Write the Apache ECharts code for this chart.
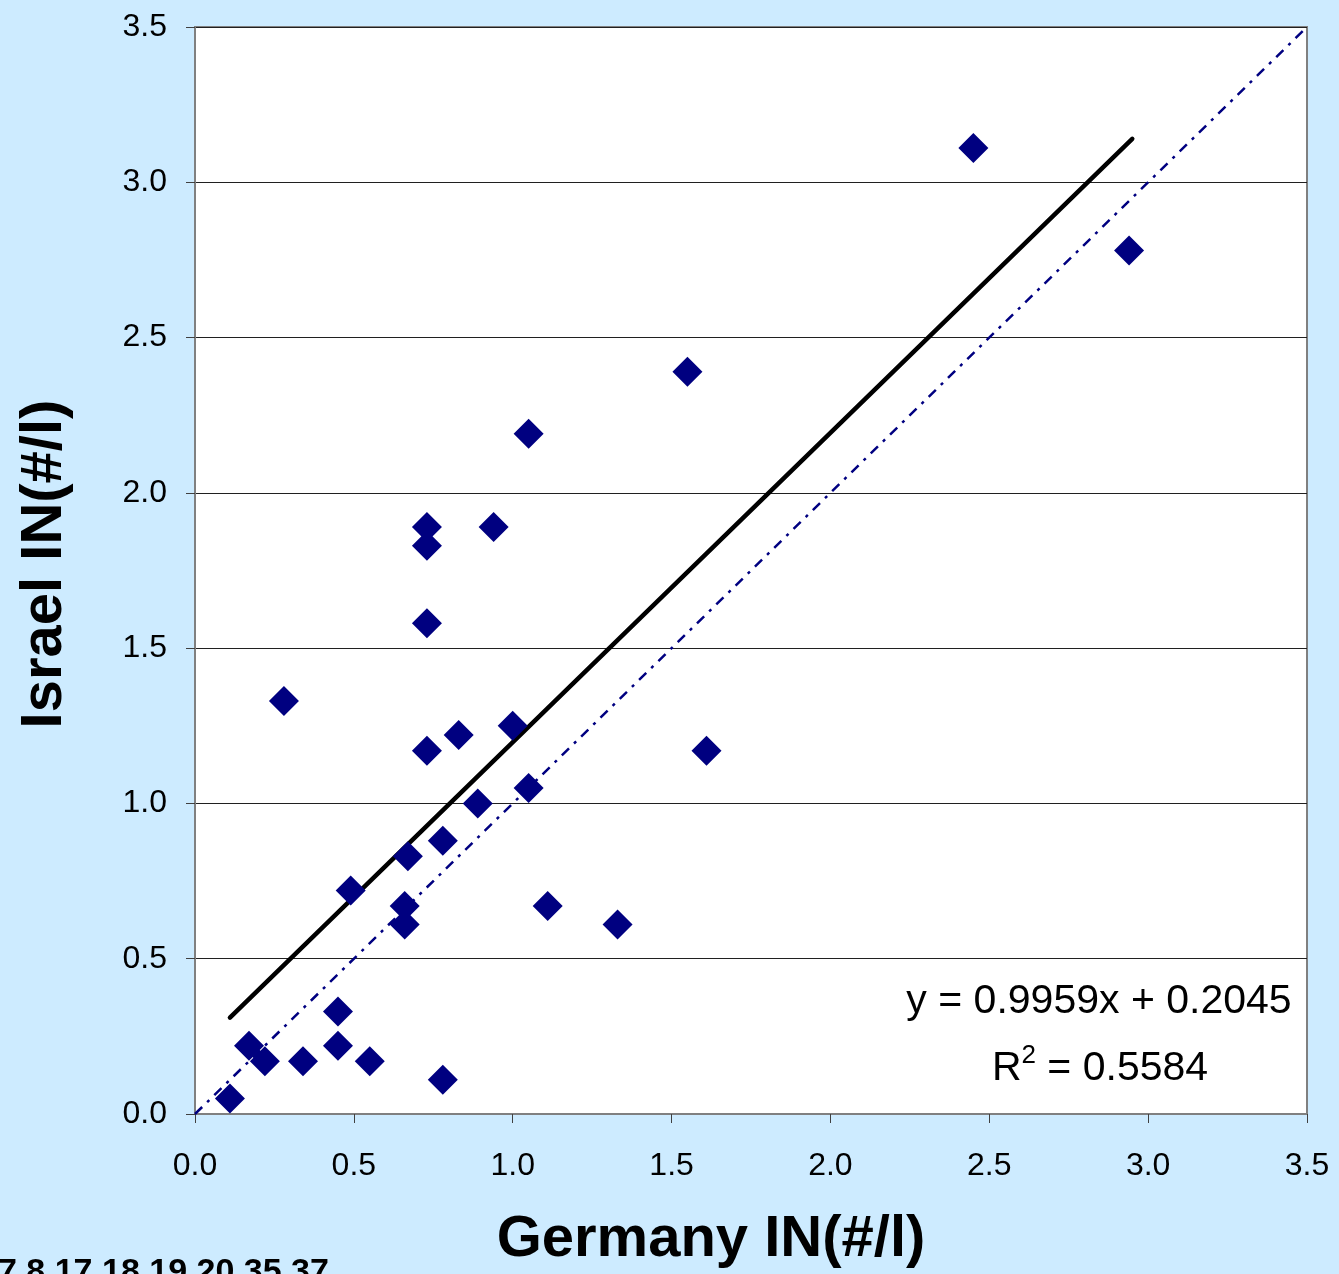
<!DOCTYPE html>
<html>
<head>
<meta charset="utf-8">
<script src="https://cdn.jsdelivr.net/npm/echarts@6/dist/echarts.min.js"></script>
<style>
  html, body { margin: 0; padding: 0; background: #cdebff; }
  #chart { width: 1339px; height: 1274px; }
</style>
</head>
<body>
<div id="chart"></div>
<script>
// Germany IN (x) vs Israel IN (y)
const germany = [0.11, 0.17, 0.22, 0.34, 0.45, 0.45, 0.55, 0.78, 0.49, 0.28,
  0.66, 0.66, 0.67, 0.78, 0.73, 0.83, 0.89, 1.00, 1.05, 1.11,
  1.33, 1.61, 0.73, 0.73, 0.73, 0.94, 1.05, 1.55, 2.45, 2.94]
const israel = [0.05, 0.22, 0.17, 0.17, 0.33, 0.22, 0.17, 0.11, 0.72, 1.33,
  0.67, 0.61, 0.83, 0.88, 1.17, 1.22, 1.00, 1.25, 1.05, 0.67,
  0.61, 1.17, 1.58, 1.83, 1.89, 1.89, 2.19, 2.39, 3.11, 2.78]

// linear trendline end points and the 1:1 line
const trendX = [0.11, 2.95]
const trendY = [0.31, 3.14]
const diagX = [0, 3.5]
const diagY = [0, 3.5]

const ticks = ['0.0', '0.5', '1.0', '1.5', '2.0', '2.5', '3.0', '3.5']
const equation = 'y = 0.9959x + 0.2045'
const rSquared = '0.5584'
const footnote = '7,8,17,18,19,20,35,37'

const font = '"Liberation Sans", Arial, sans-serif'
const chart = echarts.init(document.getElementById('chart'))

const axisCommon = {
  type: 'value',
  min: 0,
  max: 3.5,
  interval: 0.5,
  axisLine: { show: true, lineStyle: { color: '#808080', width: 2 } },
  axisTick: { show: true, inside: false, length: 9, lineStyle: { color: '#404040', width: 1 } },
  axisLabel: {
    color: '#000',
    fontSize: 32,
    fontFamily: font,
    formatter: v => ticks[Math.round(v * 2)]
  }
}

chart.setOption({
  backgroundColor: '#cdebff',
  animation: false,
  grid: {
    left: 195, top: 27, right: 32, bottom: 160,
    show: true, backgroundColor: '#fff', borderColor: '#808080', borderWidth: 2
  },
  xAxis: Object.assign({}, axisCommon, {
    splitLine: { show: false },
    axisLabel: Object.assign({}, axisCommon.axisLabel, { margin: 36 })
  }),
  yAxis: Object.assign({}, axisCommon, {
    splitLine: { show: true, lineStyle: { color: '#202020', width: 1 } },
    axisLabel: Object.assign({}, axisCommon.axisLabel, { margin: 28 })
  }),
  series: [
    {
      type: 'line',
      data: diagX.map((x, i) => [x, diagY[i]]),
      symbol: 'none',
      lineStyle: { color: '#000080', width: 2.5, type: [10, 7, 3, 7] },
      z: 1
    },
    {
      type: 'line',
      data: trendX.map((x, i) => [x, trendY[i]]),
      symbol: 'none',
      lineStyle: { color: '#000', width: 4.5, cap: 'round' },
      z: 2
    },
    {
      type: 'scatter',
      data: germany.map((x, i) => [x, israel[i]]),
      symbol: 'diamond',
      symbolSize: 30,
      itemStyle: { color: '#000080', opacity: 1 },
      z: 3
    }
  ],
  graphic: [
    {
      type: 'text',
      style: {
        x: 1099, y: 1002,
        text: equation,
        fill: '#000',
        font: '41px ' + font,
        textAlign: 'center',
        textVerticalAlign: 'middle'
      }
    },
    {
      type: 'text',
      style: {
        x: 1100, y: 1066,
        text: '{r|R}{sup|2}{r| = ' + rSquared + '}',
        textAlign: 'center',
        textVerticalAlign: 'middle',
        rich: {
          r: { fontSize: 41, fontFamily: font, fill: '#000', verticalAlign: 'bottom' },
          sup: { fontSize: 26, fontFamily: font, fill: '#000', verticalAlign: 'top', padding: [0, 0, 20, 0] }
        }
      }
    },
    {
      type: 'text',
      style: {
        x: 711, y: 1240,
        text: 'Germany IN(#/l)',
        fill: '#000',
        font: 'bold 58px ' + font,
        textAlign: 'center',
        textVerticalAlign: 'middle'
      }
    },
    {
      type: 'text',
      x: 45, y: 564,
      rotation: Math.PI / 2,
      style: {
        x: 0, y: 0,
        text: 'Israel IN(#/l)',
        fill: '#000',
        font: 'bold 58px ' + font,
        textAlign: 'center',
        textVerticalAlign: 'middle'
      }
    },
    {
      type: 'text',
      style: {
        x: -2, y: 1256,
        text: footnote,
        fill: '#000',
        font: 'bold 34px ' + font,
        textAlign: 'left',
        textVerticalAlign: 'top'
      }
    }
  ]
})
</script>
</body>
</html>
